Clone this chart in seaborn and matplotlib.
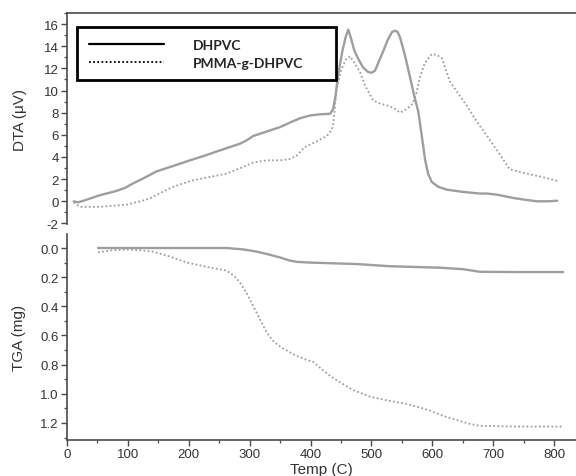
import numpy as np
import pandas as pd
import matplotlib
matplotlib.use("Agg")
import matplotlib.pyplot as plt
from matplotlib.lines import Line2D
from matplotlib.ticker import MultipleLocator, FormatStrFormatter
import seaborn as sns

# DTA curves (temperature in C, signal in uV)
dta_dhpvc_t = [11, 18, 30, 54, 79, 95, 108, 130, 147, 175, 202, 225, 246, 265, 284, 295,
               306, 328, 350, 370, 383, 399, 415, 432, 437, 441, 445, 452, 458, 462,
               466, 472, 478, 486, 494, 500, 506, 512, 519, 527, 534, 539, 543, 547,
               555, 563, 570, 577, 583, 588, 593, 599, 610, 624, 650, 678, 690, 706,
               733, 755, 772, 790, 805]
dta_dhpvc_v = [0.0, -0.1, 0.1, 0.55, 0.9, 1.2, 1.6, 2.2, 2.7, 3.2, 3.7, 4.1, 4.5, 4.85, 5.2, 5.5,
               5.9, 6.3, 6.7, 7.2, 7.5, 7.75, 7.85, 7.9, 8.3, 9.5, 11.3, 13.5, 14.9, 15.5,
               14.8, 13.6, 12.9, 12.1, 11.7, 11.6, 11.8, 12.6, 13.5, 14.6, 15.3, 15.4, 15.3, 14.8,
               13.2, 11.3, 9.6, 8.1, 5.8, 3.8, 2.5, 1.75, 1.3, 1.05, 0.85, 0.7, 0.7, 0.6,
               0.3, 0.12, 0.0, 0.0, 0.05]

dta_pmma_t = [11, 21, 54, 98, 120, 136, 155, 174, 190, 207, 235, 262, 285, 306, 328, 350,
              365, 377, 387, 394, 410, 427, 434, 437, 440, 443, 450, 458, 465, 472, 481,
              490, 503, 515, 530, 540, 547, 557, 568, 574, 580, 588, 599, 608, 616, 622,
              629, 643, 657, 673, 690, 710, 727, 740, 755, 780, 805]
dta_pmma_v = [-0.1, -0.5, -0.5, -0.3, 0.0, 0.25, 0.8, 1.3, 1.6, 1.9, 2.2, 2.5, 3.0, 3.5, 3.7, 3.7,
              3.8, 4.1, 4.7, 5.0, 5.4, 5.9, 6.4, 6.8, 8.5, 10.2, 11.8, 12.8, 13.1, 12.5, 11.7,
              10.4, 9.1, 8.8, 8.6, 8.3, 8.0, 8.3, 8.8, 9.8, 11.3, 12.5, 13.3, 13.2, 12.9, 11.9,
              10.8, 9.7, 8.6, 7.2, 5.9, 4.3, 2.9, 2.7, 2.5, 2.2, 1.85]

# TGA curves (temperature in C, mass loss in mg)
tga_dhpvc_t = [51, 150, 262, 290, 312, 332, 350, 365, 377, 400, 476, 530, 612, 650, 678,
               740, 815]
tga_dhpvc_v = [0.0, 0.0, 0.0, 0.01, 0.025, 0.045, 0.065, 0.085, 0.095, 0.1, 0.11, 0.125,
               0.135, 0.145, 0.163, 0.165, 0.165]

tga_pmma_t = [51, 75, 98, 120, 141, 170, 197, 230, 262, 274, 284, 295, 306, 317, 328, 340,
              355, 377, 395, 404, 418, 433, 448, 470, 498, 525, 558, 580, 596, 620, 640,
              660, 678, 740, 815]
tga_pmma_v = [0.03, 0.015, 0.01, 0.015, 0.025, 0.06, 0.1, 0.13, 0.155, 0.19, 0.235, 0.31,
              0.40, 0.49, 0.58, 0.645, 0.69, 0.74, 0.77, 0.78, 0.83, 0.88, 0.92, 0.975,
              1.02, 1.045, 1.07, 1.095, 1.115, 1.155, 1.18, 1.205, 1.22, 1.225, 1.225]

series_names = ["DHPVC", "PMMA-g-DHPVC"]

sns.set_theme(style="ticks")
plt.rcParams["font.family"] = ["Liberation Sans", "DejaVu Sans"]
plt.rcParams["axes.unicode_minus"] = False

line_color = "#9e9e9e"
spine_color = "#4a4a4a"
text_color = "#333333"
dotted = (0, (1.0, 1.3))

fig = plt.figure(figsize=(5.76, 4.77), dpi=100)
ax_dta = fig.add_axes([0.1163, 0.5283, 0.8837, 0.4423])
ax_tga = fig.add_axes([0.1163, 0.0755, 0.8837, 0.4318])

dta_a = pd.DataFrame({"Temp": dta_dhpvc_t, "DTA": dta_dhpvc_v})
dta_b = pd.DataFrame({"Temp": dta_pmma_t, "DTA": dta_pmma_v})
tga_a = pd.DataFrame({"Temp": tga_dhpvc_t, "TGA": tga_dhpvc_v})
tga_b = pd.DataFrame({"Temp": tga_pmma_t, "TGA": tga_pmma_v})

sns.lineplot(data=dta_a, x="Temp", y="DTA", ax=ax_dta, color=line_color, lw=1.7)
sns.lineplot(data=dta_b, x="Temp", y="DTA", ax=ax_dta, color=line_color, lw=1.3,
             linestyle=dotted)
sns.lineplot(data=tga_a, x="Temp", y="TGA", ax=ax_tga, color=line_color, lw=1.7)
sns.lineplot(data=tga_b, x="Temp", y="TGA", ax=ax_tga, color=line_color, lw=1.3,
             linestyle=dotted)

for ax in (ax_dta, ax_tga):
    ax.set_xlim(0, 836)
    ax.spines["right"].set_visible(False)
    for s in ax.spines.values():
        s.set_color(spine_color)
        s.set_linewidth(1.2)
    ax.tick_params(axis="both", which="major", direction="out", length=4, width=1,
                   color=spine_color, labelcolor=text_color, labelsize=9.5, pad=2)
    ax.tick_params(axis="both", which="minor", direction="out", length=2.5, width=0.9,
                   color=spine_color)

# Top panel: DTA
ax_dta.set_ylim(-2.05, 17.0)
ax_dta.yaxis.set_major_locator(MultipleLocator(2))
ax_dta.yaxis.set_minor_locator(MultipleLocator(1))
ax_dta.spines["bottom"].set_visible(False)
ax_dta.tick_params(axis="x", which="both", bottom=False, labelbottom=False)
ax_dta.set_xlabel("")
ax_dta.set_ylabel("DTA (\u03bcV)", fontsize=11, color=text_color, labelpad=12)

# Bottom panel: TGA (inverted)
ax_tga.set_ylim(1.317, -0.096)
ax_tga.yaxis.set_major_locator(MultipleLocator(0.2))
ax_tga.yaxis.set_minor_locator(MultipleLocator(0.1))
ax_tga.yaxis.set_major_formatter(FormatStrFormatter("%.1f"))
ax_tga.xaxis.set_major_locator(MultipleLocator(100))
ax_tga.xaxis.set_minor_locator(MultipleLocator(50))
ax_tga.spines["top"].set_visible(False)
ax_tga.set_xlabel("Temp (C)", fontsize=11, color=text_color, labelpad=1)
ax_tga.set_ylabel("TGA (mg)", fontsize=11, color=text_color, labelpad=10)

handles = [Line2D([], [], color="black", lw=1.6),
           Line2D([], [], color="black", lw=1.3, linestyle=dotted)]
leg = ax_dta.legend(handles, series_names, loc="upper left",
                    bbox_to_anchor=(0.134, 0.941, 0.449, 0.0),
                    bbox_transform=fig.transFigure, mode="expand",
                    frameon=True, fancybox=False, handlelength=5.4,
                    handletextpad=2.1, labelspacing=0.4, borderpad=0.85,
                    borderaxespad=0,
                    prop={"family": "Lato", "weight": "bold", "size": 10})
leg.get_frame().set_edgecolor("black")
leg.get_frame().set_linewidth(2)
leg.get_frame().set_alpha(1)

fig.savefig("out.png", dpi=100)
